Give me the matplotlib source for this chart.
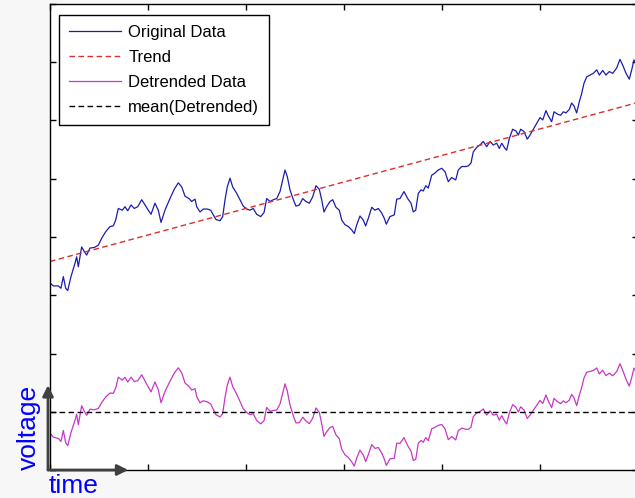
import numpy as np
import matplotlib
matplotlib.use("Agg")
import matplotlib.pyplot as plt

plt.rcParams['font.family'] = ['Liberation Sans', 'DejaVu Sans']

# time / voltage
t = [0.00, 0.034, 0.085, 0.112, 0.136, 0.160, 0.181, 0.214, 0.255, 0.272, 0.289, 0.323, 0.350, 0.374,
     0.408, 0.452, 0.493, 0.528, 0.568, 0.612, 0.646, 0.670, 0.697, 0.738, 0.765, 0.793, 0.827, 0.860,
     0.895, 0.936, 0.969, 1.003, 1.031, 1.071, 1.105, 1.133, 1.173, 1.224, 1.268, 1.309, 1.344, 1.378,
     1.418, 1.446, 1.480, 1.497, 1.531, 1.564, 1.605, 1.640, 1.666, 1.694, 1.735, 1.762, 1.786, 1.809,
     1.837, 1.864, 1.905, 1.939, 1.972, 2.007, 2.041, 2.074, 2.109, 2.150, 2.184, 2.211, 2.245, 2.279,
     2.313, 2.347, 2.374, 2.398, 2.421, 2.449, 2.483, 2.510, 2.544, 2.579, 2.612, 2.646, 2.681, 2.714,
     2.748, 2.772, 2.796, 2.823, 2.857, 2.885, 2.918, 2.952, 2.977, 3.010, 3.044, 3.079, 3.105, 3.130,
     3.163, 3.197, 3.221, 3.248, 3.283, 3.316, 3.350, 3.385, 3.411, 3.432, 3.469, 3.513, 3.538, 3.571,
     3.612, 3.650, 3.684, 3.707, 3.732, 3.758, 3.786, 3.809, 3.834, 3.860, 3.895, 3.929, 3.962, 3.997,
     4.031, 4.064, 4.099, 4.140, 4.166, 4.201, 4.242, 4.268, 4.296, 4.319, 4.354, 4.388, 4.421, 4.456,
     4.490, 4.523, 4.558, 4.585, 4.609, 4.643, 4.660, 4.687, 4.721, 4.755, 4.779, 4.803, 4.837, 4.870,
     4.898, 4.932, 4.966, 5.000, 5.028, 5.061, 5.085, 5.119, 5.143, 5.177, 5.211, 5.238, 5.265, 5.299,
     5.323, 5.347, 5.374, 5.401, 5.426, 5.449, 5.477, 5.510, 5.544, 5.579, 5.605, 5.640, 5.673, 5.707,
     5.742, 5.782, 5.816, 5.844, 5.878, 5.911, 5.936, 5.959, 5.990]
volt = [3.21, 3.16, 3.16, 3.12, 3.32, 3.12, 3.08, 3.32, 3.55, 3.66, 3.49, 3.83, 3.75, 3.69,
        3.81, 3.82, 3.86, 3.98, 4.09, 4.18, 4.19, 4.29, 4.49, 4.46, 4.52, 4.45, 4.55, 4.49,
        4.52, 4.64, 4.55, 4.46, 4.39, 4.58, 4.46, 4.25, 4.46, 4.66, 4.82, 4.93, 4.86, 4.70,
        4.66, 4.61, 4.65, 4.52, 4.43, 4.48, 4.48, 4.46, 4.38, 4.30, 4.28, 4.35, 4.64, 4.86,
        5.01, 4.86, 4.75, 4.64, 4.53, 4.48, 4.46, 4.49, 4.39, 4.35, 4.42, 4.66, 4.61, 4.64,
        4.66, 4.78, 4.98, 5.15, 5.04, 4.81, 4.64, 4.53, 4.55, 4.66, 4.61, 4.58, 4.69, 4.88,
        4.82, 4.64, 4.43, 4.52, 4.61, 4.64, 4.51, 4.46, 4.29, 4.21, 4.18, 4.12, 4.06, 4.21,
        4.36, 4.29, 4.19, 4.32, 4.51, 4.46, 4.49, 4.41, 4.32, 4.22, 4.35, 4.38, 4.65, 4.66,
        4.78, 4.66, 4.58, 4.43, 4.46, 4.75, 4.81, 4.79, 4.88, 4.84, 5.06, 5.10, 5.15, 5.18,
        5.12, 4.95, 5.02, 4.98, 5.15, 5.21, 5.21, 5.22, 5.27, 5.46, 5.54, 5.58, 5.64, 5.55,
        5.64, 5.58, 5.61, 5.52, 5.61, 5.52, 5.49, 5.69, 5.85, 5.82, 5.75, 5.85, 5.81, 5.68,
        5.75, 5.85, 5.95, 6.05, 6.01, 6.17, 6.08, 5.98, 6.15, 6.11, 6.09, 6.15, 6.13, 6.19,
        6.30, 6.25, 6.13, 6.32, 6.47, 6.64, 6.75, 6.78, 6.81, 6.87, 6.78, 6.86, 6.78, 6.84,
        6.81, 6.90, 7.05, 6.95, 6.81, 6.71, 6.87, 7.04, 6.97]

# fitted trend line and offset of the detrended curve
trend_t = [0.0, 6.0]
trend_v = [3.58, 6.31]
mean_level = 1.0

t = np.array(t)
volt = np.array(volt)
trend = np.interp(t, trend_t, trend_v)
detrended = volt - trend + mean_level

fig = plt.figure(figsize=(6.35, 4.98), dpi=100, facecolor='#f7f7f7')
ax = fig.add_axes([50 / 635, 28 / 498, 588 / 635, 466 / 498])
ax.set_facecolor('white')

ax.plot(t, volt, color='#1c1cb0', lw=0.9, label='Original Data')
ax.plot(trend_t, trend_v, color='#d83030', lw=1.0, ls=(0, (4, 2.5)), label='Trend')
ax.plot(t, detrended, color='#c836c8', lw=0.9, label='Detrended Data')
ax.plot([0, 6], [mean_level, mean_level], color='black', lw=1.0, ls=(0, (4, 2.5)),
        label='mean(Detrended)')

ax.set_xlim(0, 6)
ax.set_ylim(0, 8)
ax.set_xticks(range(0, 7))
ax.set_yticks(range(0, 9))
ax.set_xticklabels([])
ax.set_yticklabels([])
ax.tick_params(direction='in', length=4, width=1, top=True, right=True, color='black')
for s in ax.spines.values():
    s.set_linewidth(1.0)

leg = ax.legend(loc='upper left', bbox_to_anchor=(0.0153, 0.976), borderaxespad=0,
                fontsize=12, fancybox=False, framealpha=1, edgecolor='black',
                handlelength=3.1, handletextpad=0.45, labelspacing=0.6, borderpad=0.6)
leg.get_frame().set_linewidth(1.0)

# axis hint arrows
arrow = dict(arrowstyle='-|>', color='#404040', lw=2, mutation_scale=16, shrinkA=0, shrinkB=0)
ax.annotate('', xy=(-0.0034, 0.182), xytext=(-0.0034, 0.0), xycoords='axes fraction',
            arrowprops=arrow, annotation_clip=False)
ax.annotate('', xy=(0.133, 0.0), xytext=(-0.0034, 0.0), xycoords='axes fraction',
            arrowprops=arrow, annotation_clip=False)
fig.text(49 / 635, 5 / 498, 'time', color='#0000ff', fontsize=19, ha='left', va='baseline')
fig.text(29 / 635, 71 / 498, 'voltage', color='#0000ff', fontsize=19, rotation=90,
         ha='center', va='center')

fig.savefig('out.png', dpi=100, facecolor=fig.get_facecolor())
